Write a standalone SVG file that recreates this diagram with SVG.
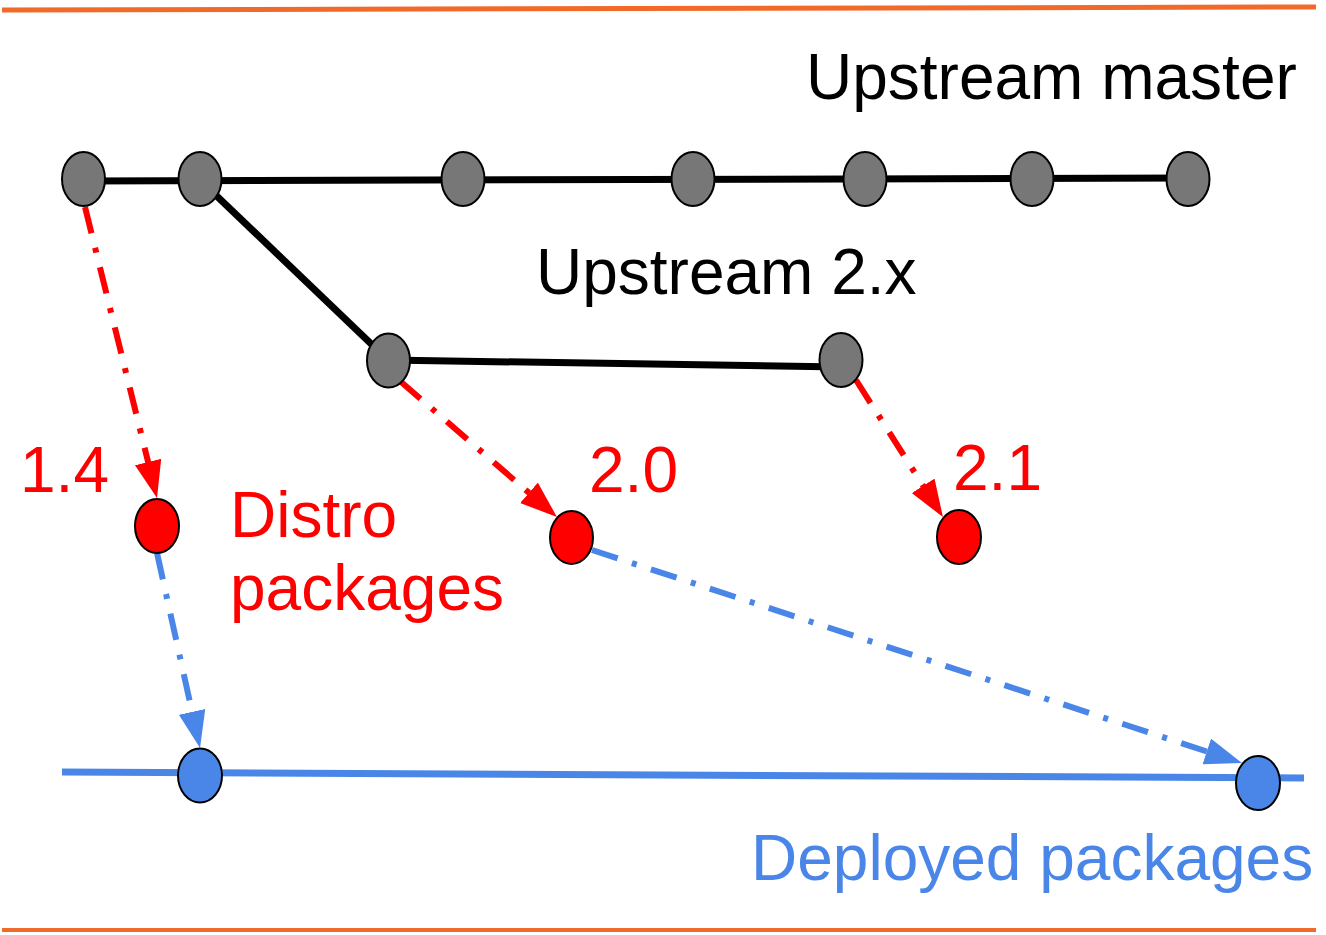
<svg xmlns="http://www.w3.org/2000/svg" width="1326" height="935" viewBox="0 0 1326 935">
  <style>
    .t { font-family: "Liberation Sans", Arial, sans-serif; font-size: 64px; }
    .blk { fill: #000000; }
    .red { fill: #ff0000; }
    .blu { fill: #4a86e8; }
    .gray { fill: #777777; stroke: #000000; stroke-width: 2; }
    .rnode { fill: #ff0000; stroke: #000000; stroke-width: 2; }
    .bnode { fill: #4a86e8; stroke: #000000; stroke-width: 2; }
    .branch { stroke: #000000; stroke-width: 7; fill: none; }
    .rarr { stroke: #ff0000; stroke-width: 6; fill: none; stroke-dasharray: 27 15 5 15; marker-end: url(#ah-red); }
    .barr { stroke: #4a86e8; stroke-width: 6; fill: none; stroke-dasharray: 27 15 5 15; marker-end: url(#ah-blue); }
    .rule { stroke: #f26a2a; fill: none; }
  </style>
  <defs>
    <marker id="ah-red" markerUnits="userSpaceOnUse" markerWidth="40" markerHeight="30" refX="2" refY="13.5" orient="auto">
      <path d="M0,0 L37,13.5 L0,27 z" fill="#ff0000"/>
    </marker>
    <marker id="ah-blue" markerUnits="userSpaceOnUse" markerWidth="40" markerHeight="30" refX="2" refY="13.5" orient="auto">
      <path d="M0,0 L37,13.5 L0,27 z" fill="#4a86e8"/>
    </marker>
  </defs>
  <rect width="1326" height="935" fill="#ffffff"/>

  <g id="rules">
    <line class="rule" x1="2" y1="10" x2="1316" y2="7" stroke-width="5"/>
    <line class="rule" x1="2" y1="930" x2="1316" y2="930" stroke-width="4"/>
  </g>

  <g id="connectors">
    <line class="branch" x1="83" y1="181" x2="1188" y2="178"/>
    <line class="branch" x1="200" y1="180" x2="388" y2="360"/>
    <line class="branch" x1="388" y1="360" x2="841" y2="367"/>
    <line x1="62" y1="772" x2="1304" y2="778" stroke="#4a86e8" stroke-width="7"/>
    <line class="rarr" x1="85" y1="207" x2="148.6" y2="464"/>
    <line class="rarr" x1="400" y1="381" x2="530.5" y2="494.1"/>
    <line class="rarr" x1="856" y1="380" x2="924.2" y2="487.5"/>
    <line class="barr" x1="157" y1="553" x2="192.5" y2="713.8"/>
    <line class="barr" x1="592" y1="550" x2="1208.7" y2="752.1"/>
  </g>

  <g id="master-1"><ellipse class="gray" cx="83.5" cy="179" rx="21.5" ry="27"/></g>
  <g id="master-2"><ellipse class="gray" cx="200" cy="179" rx="21.5" ry="27"/></g>
  <g id="master-3"><ellipse class="gray" cx="463" cy="179" rx="21.5" ry="27"/></g>
  <g id="master-4"><ellipse class="gray" cx="693" cy="179" rx="21.5" ry="27"/></g>
  <g id="master-5"><ellipse class="gray" cx="865" cy="179" rx="21.5" ry="27"/></g>
  <g id="master-6"><ellipse class="gray" cx="1032" cy="179" rx="21.5" ry="27"/></g>
  <g id="master-7"><ellipse class="gray" cx="1188" cy="179" rx="21.5" ry="27"/></g>
  <g id="branch2-1"><ellipse class="gray" cx="388.5" cy="360.5" rx="21.5" ry="27"/></g>
  <g id="branch2-2"><ellipse class="gray" cx="841" cy="360" rx="21.5" ry="27"/></g>

  <g id="distro-14"><ellipse class="rnode" cx="157" cy="526" rx="22" ry="27"/></g>
  <g id="distro-20"><ellipse class="rnode" cx="571.5" cy="537.5" rx="21.5" ry="26.5"/></g>
  <g id="distro-21"><ellipse class="rnode" cx="959" cy="537" rx="22" ry="27"/></g>

  <g id="deployed-1"><ellipse class="bnode" cx="200" cy="775.5" rx="22" ry="27"/></g>
  <g id="deployed-2"><ellipse class="bnode" cx="1258" cy="783" rx="22" ry="27"/></g>

  <g id="labels">
    <text class="t blk" x="806" y="99">Upstream master</text>
    <text class="t blk" x="536" y="294">Upstream 2.x</text>
    <text class="t red" x="20" y="492">1.4</text>
    <text class="t red" x="589" y="492">2.0</text>
    <text class="t red" x="953" y="490">2.1</text>
    <text class="t red" x="230" y="537">Distro</text>
    <text class="t red" x="230" y="610">packages</text>
    <text class="t blu" x="751" y="880">Deployed packages</text>
  </g>
</svg>
